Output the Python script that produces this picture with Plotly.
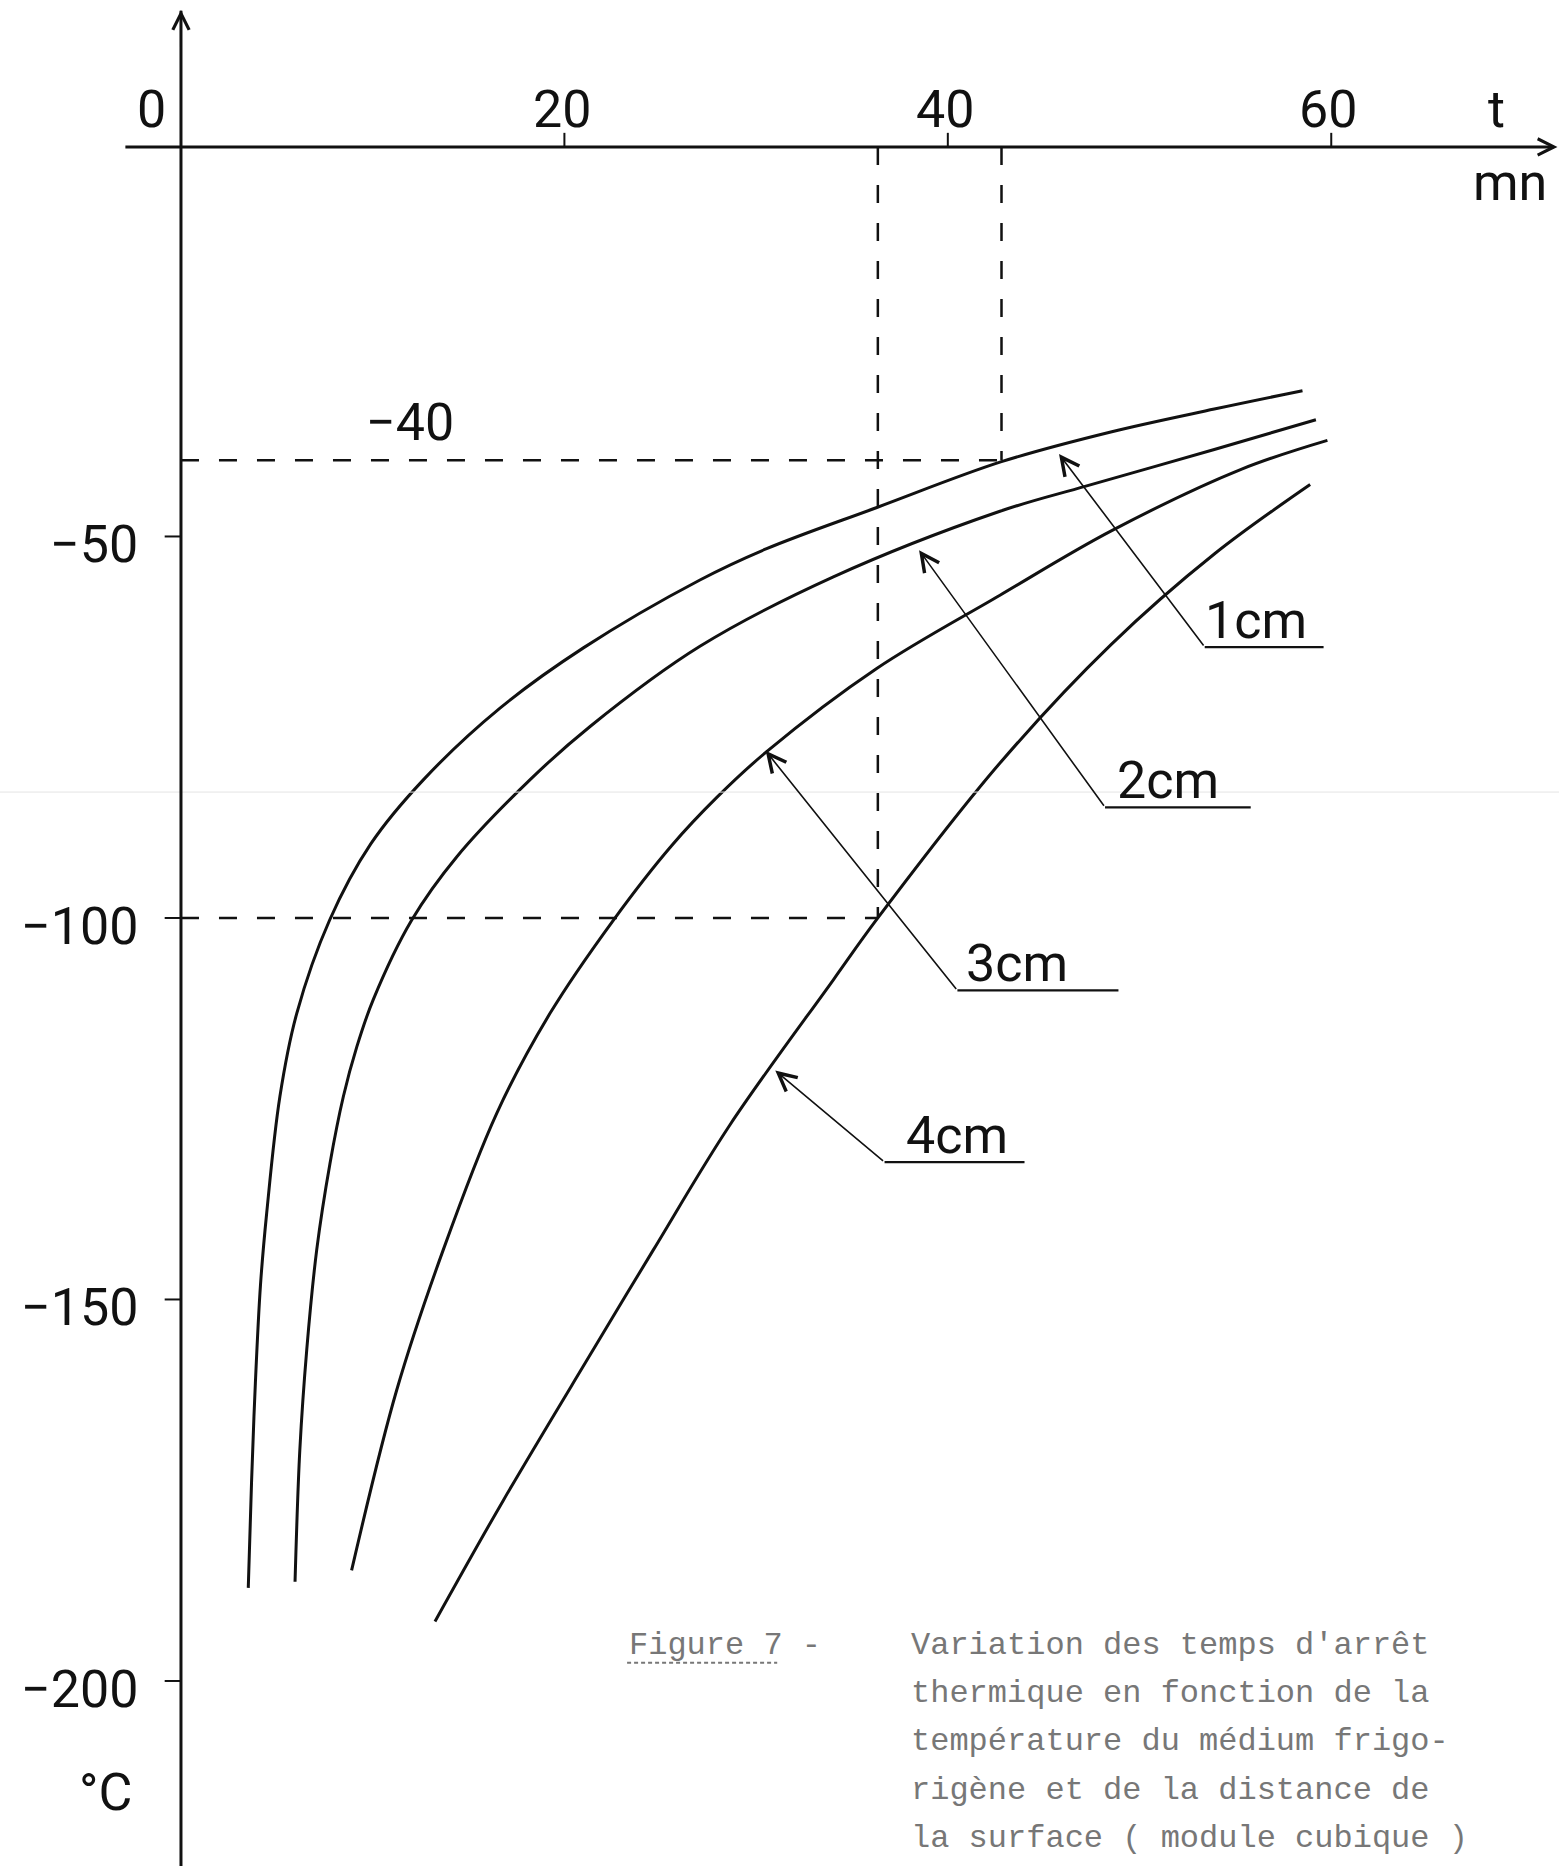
import plotly.graph_objects as go

# ---- data (time in minutes, temperature in °C) ----
t_1cm = [3.51, 3.68, 3.88, 4.15, 4.47, 5.16, 6.04, 7.75, 9.9, 12.64, 16.64, 20.99, 27.07, 30.55, 36.3, 42.8, 48.5, 53.9, 58.5]
T_1cm = [-187.8, -174.0, -161.0, -148.0, -138.7, -123.4, -112.5, -100.3, -90.3, -81.9, -72.5, -64.6, -55.7, -51.6, -46.2, -40.2, -36.3, -33.3, -30.9]

t_2cm = [5.95, 6.2, 6.56, 7.08, 7.77, 8.47, 9.17, 10.03, 12.03, 14.38, 18.2, 21.34, 27.07, 34.03, 42.72, 47.2, 53.9, 59.2]
T_2cm = [-187.0, -169.7, -156.6, -143.5, -132.2, -123.4, -116.9, -110.7, -100.3, -92.0, -81.9, -74.9, -64.4, -55.3, -46.7, -43.4, -38.6, -34.7]

t_3cm = [8.9, 11.25, 13.68, 16.47, 19.25, 22.55, 25.6, 27.95, 30.55, 36.29, 42.72, 48.5, 55.3, 59.8]
T_3cm = [-185.5, -161.9, -143.5, -125.6, -112.5, -100.3, -90.5, -84.2, -78.2, -67.3, -57.7, -49.3, -41.2, -37.4]

t_4cm = [13.25, 16.82, 21.5, 24.64, 28.64, 34.03, 36.35, 42.72, 48.5, 53.9, 58.9]
T_4cm = [-192.2, -176.3, -156.6, -143.5, -127.1, -108.1, -100.0, -79.7, -64.2, -52.3, -43.2]

series_names = ["1cm", "2cm", "3cm", "4cm"]

x_tick_values = [20, 40, 60]
x_tick_labels = ["20", "40", "60"]
y_tick_values = [-50, -100, -150, -200]
y_tick_labels = ["\u221250", "\u2212100", "\u2212150", "\u2212200"]

# reading lines: (time, temperature)
ref_t = [36.35, 42.8]
ref_T = [-100, -40]

caption_lines = [
    "Variation des temps d'arr\u00eat",
    "thermique en fonction de la",
    "temp\u00e9rature du m\u00e9dium frigo-",
    "rig\u00e8ne et de la distance de",
    "la surface ( module cubique )",
]

FONT = "Roboto, DejaVu Sans, sans-serif"
INK = "#111111"
W, H = 1559, 1866

fig = go.Figure()

for name, tx, ty in zip(series_names, [t_1cm, t_2cm, t_3cm, t_4cm], [T_1cm, T_2cm, T_3cm, T_4cm]):
    fig.add_trace(go.Scatter(x=tx, y=ty, mode="lines", name=name,
                             line=dict(color=INK, width=3, shape="spline", smoothing=1.0),
                             showlegend=False, hoverinfo="skip"))

shapes = []
annotations = []

# faint scanner line
shapes.append(dict(type="line", xref="x", yref="y", x0=-9.5, x1=72, y0=-83.5, y1=-83.5,
                   line=dict(color="#e4e4e4", width=1)))

# axes
shapes.append(dict(type="line", xref="x", yref="y", x0=0, x1=0, y0=18.9, y1=-230,
                   line=dict(color=INK, width=3)))
shapes.append(dict(type="line", xref="x", yref="y", x0=-2.9, x1=71.6, y0=1.05, y1=1.05,
                   line=dict(color=INK, width=3)))
# axis arrowheads
annotations.append(dict(x=0, y=19.0, ax=0, ay=14.0, xref="x", yref="y", axref="x", ayref="y",
                        text="", showarrow=True, arrowhead=5, arrowsize=1.6, arrowwidth=2,
                        arrowcolor=INK))
annotations.append(dict(x=71.8, y=1.05, ax=68.5, ay=1.05, xref="x", yref="y", axref="x", ayref="y",
                        text="", showarrow=True, arrowhead=5, arrowsize=1.6, arrowwidth=2,
                        arrowcolor=INK))

# ticks and tick labels
for v, lab in zip(x_tick_values, x_tick_labels):
    shapes.append(dict(type="line", xref="x", yref="y", x0=v, x1=v, y0=1.05, y1=2.9,
                       line=dict(color=INK, width=2)))
    annotations.append(dict(x=v - 0.15, y=6.0, xref="x", yref="y", text=lab, showarrow=False,
                            font=dict(family=FONT, size=52, color=INK), xanchor="center", yanchor="middle"))
annotations.append(dict(x=-1.56, y=6.0, xref="x", yref="y", text="0", showarrow=False,
                        font=dict(family=FONT, size=52, color=INK), xanchor="center", yanchor="middle"))
for v, lab in zip(y_tick_values, y_tick_labels):
    shapes.append(dict(type="line", xref="x", yref="y", x0=-0.85, x1=0, y0=v, y1=v,
                       line=dict(color=INK, width=2)))
    annotations.append(dict(x=-2.15, y=v - 1.1, xref="x", yref="y", text=lab, showarrow=False,
                            font=dict(family=FONT, size=52, color=INK), xanchor="right", yanchor="middle"))

annotations.append(dict(x=68.6, y=6.0, xref="x", yref="y", text="t", showarrow=False,
                        font=dict(family=FONT, size=52, color=INK), xanchor="center", yanchor="middle"))
annotations.append(dict(x=69.3, y=-3.6, xref="x", yref="y", text="mn", showarrow=False,
                        font=dict(family=FONT, size=52, color=INK), xanchor="center", yanchor="middle"))
annotations.append(dict(x=-3.96, y=-214.6, xref="x", yref="y", text="\u00b0C", showarrow=False,
                        font=dict(family=FONT, size=52, color=INK), xanchor="center", yanchor="middle"))
annotations.append(dict(x=11.95, y=-35.0, xref="x", yref="y", text="\u221240", showarrow=False,
                        font=dict(family=FONT, size=52, color=INK), xanchor="center", yanchor="middle"))

# dashed reading lines
DASH = "18px,20px"
for tv, Tv in zip(ref_t, ref_T):
    shapes.append(dict(type="line", xref="x", yref="y", x0=0, x1=tv, y0=Tv, y1=Tv,
                       line=dict(color=INK, width=2.5, dash=DASH)))
    shapes.append(dict(type="line", xref="x", yref="y", x0=tv, x1=tv, y0=1.05, y1=Tv,
                       line=dict(color=INK, width=2.5, dash=DASH)))

# curve labels with leader arrows: (label, tip t, tip T, elbow t, elbow T, underline end t, text t, text T)
leaders = [
    (series_names[0], 45.8, -39.2, 53.4, -64.5, 59.6, 56.1, -61.0),
    (series_names[1], 38.5, -51.8, 48.2, -85.5, 55.8, 51.5, -82.0),
    (series_names[2], 30.5, -78.1, 40.5, -109.5, 48.9, 43.6, -106.0),
    (series_names[3], 31.0, -120.0, 36.7, -132.0, 44.0, 40.5, -128.5),
]
for lab, tx, ty, ex, ey, ue, lx, ly in leaders:
    annotations.append(dict(x=tx, y=ty, ax=ex, ay=ey, xref="x", yref="y", axref="x", ayref="y",
                            text="", showarrow=True, arrowhead=5, arrowsize=2.2, arrowwidth=1.6,
                            arrowcolor=INK))
    shapes.append(dict(type="line", xref="x", yref="y", x0=ex, x1=ue, y0=ey, y1=ey,
                       line=dict(color=INK, width=2.2)))
    annotations.append(dict(x=lx, y=ly, xref="x", yref="y", text=lab, showarrow=False,
                            font=dict(family=FONT, size=52, color=INK), xanchor="center", yanchor="middle"))

# caption
CAP_FONT = "Liberation Mono, DejaVu Sans Mono, monospace"
CAP_COL = "#777777"
annotations.append(dict(x=23.27, y=-195.4, xref="x", yref="y", text="Figure 7 -", showarrow=False,
                        font=dict(family=CAP_FONT, size=32, color=CAP_COL), xanchor="left", yanchor="middle"))
shapes.append(dict(type="line", xref="x", yref="y", x0=23.27, x1=31.1, y0=-197.6, y1=-197.6,
                   line=dict(color=CAP_COL, width=2, dash="4px,3px")))
cap_y = [-195.4, -201.7, -207.9, -214.4, -220.7]
for line_text, cy in zip(caption_lines, cap_y):
    annotations.append(dict(x=38.0, y=cy, xref="x", yref="y", text=line_text, showarrow=False,
                            font=dict(family=CAP_FONT, size=32, color=CAP_COL), xanchor="left", yanchor="middle"))

fig.update_layout(
    width=W, height=H,
    margin=dict(l=0, r=0, t=0, b=0, pad=0),
    paper_bgcolor="white", plot_bgcolor="white",
    xaxis=dict(range=[-9.44, 71.88], visible=False, fixedrange=True),
    yaxis=dict(range=[-224.25, 20.31], visible=False, fixedrange=True),
    shapes=shapes, annotations=annotations,
    showlegend=False,
)

fig.write_html("out.html")
